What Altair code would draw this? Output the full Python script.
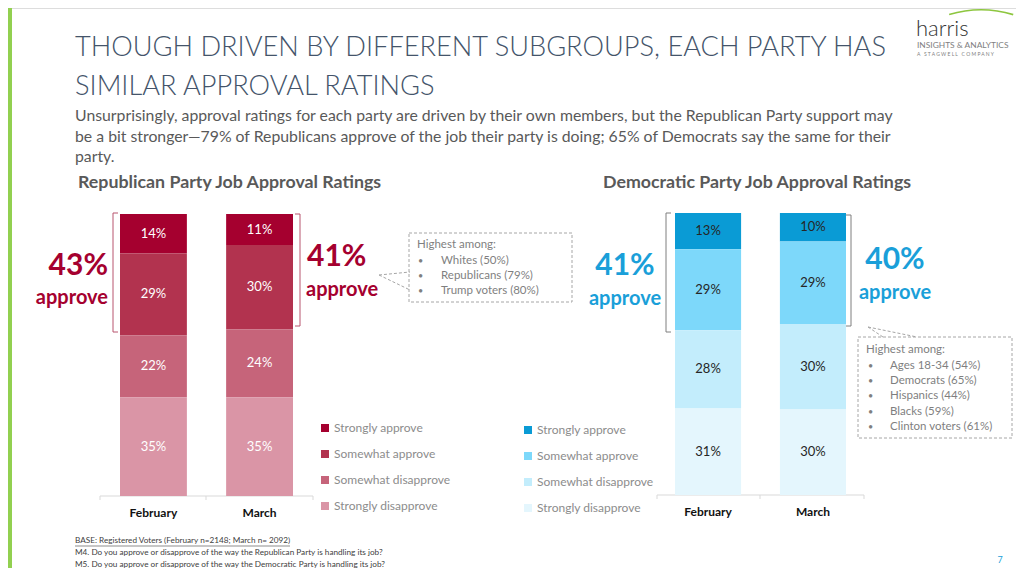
import altair as alt
import pandas as pd

# ---------------- data ----------------
months = ["February", "March"]
levels = ["Strongly approve", "Somewhat approve", "Somewhat disapprove", "Strongly disapprove"]
rep_feb = [14, 29, 22, 35]
rep_mar = [11, 30, 24, 35]
dem_feb = [13, 29, 28, 31]
dem_mar = [10, 29, 30, 30]
rep_colors = ["#A5002F", "#B2334F", "#C6647A", "#DA95A6"]
dem_colors = ["#0A9BD5", "#7DD8FA", "#C3EDFC", "#E4F6FD"]

title_lines = ["THOUGH DRIVEN BY DIFFERENT SUBGROUPS, EACH PARTY HAS", "SIMILAR APPROVAL RATINGS"]
subtitle_lines = [
    "Unsurprisingly, approval ratings for each party are driven by their own members, but the Republican Party support may",
    "be a bit stronger\u201479% of Republicans approve of the job their party is doing; 65% of Democrats say the same for their",
    "party.",
]
rep_header = "Republican Party Job Approval Ratings"
dem_header = "Democratic Party Job Approval Ratings"
rep_approve = ["43%", "41%"]
dem_approve = ["41%", "40%"]
approve_word = "approve"
callout_title = "Highest among:"
rep_callout = ["Whites (50%)", "Republicans (79%)", "Trump voters (80%)"]
dem_callout = ["Ages 18-34 (54%)", "Democrats (65%)", "Hispanics (44%)", "Blacks (59%)", "Clinton voters (61%)"]
footer_lines = [
    "BASE: Registered Voters (February n=2148; March n= 2092)",
    "M4. Do you approve or disapprove of the way the Republican Party is handling its job?",
    "M5. Do you approve or disapprove of the way the Democratic Party is handling its job?",
]
page_number = "7"
logo_lines = ["harris", "INSIGHTS & ANALYTICS", "A \u2002S T A G W E L L \u2002C O M P A N Y"]

FONT = "Lato"
OX, OY = 8, 8
RED = "#A5002F"
BLUE = "#1A9FD9"
GRAY = "#595959"
LGRAY = "#7F7F7F"


def party_frame(feb, mar):
    rows = []
    for m, vals in zip(months, [feb, mar]):
        for i, (lvl, v) in enumerate(zip(levels, vals)):
            rows.append(dict(month=m, level=lvl, value=v, order=len(levels) - 1 - i, label=f"{v}%"))
    return pd.DataFrame(rows)


def party_chart(df, colors, xr, yr, label_color, leg_x, leg_y, month_y):
    xs = alt.X("month:N", scale=alt.Scale(domain=months, range=[xr[0] - OX, xr[1] - OX],
                                           paddingInner=0.37, paddingOuter=0), axis=None)
    ys = alt.Scale(domain=[0, 1], range=[yr[0] - OY, yr[1] - OY], nice=False, zero=False)
    base = alt.Chart(df).transform_stack(
        stack="value", groupby=["month"], as_=["y0", "y1"], offset="normalize",
        sort=[alt.SortField("order", order="ascending")],
    ).transform_calculate(mid="(datum.y0 + datum.y1) / 2")
    bars = base.mark_bar().encode(
        x=xs,
        y=alt.Y("y0:Q", scale=ys, axis=None),
        y2="y1:Q",
        color=alt.Color(
            "level:N",
            scale=alt.Scale(domain=levels, range=colors),
            legend=alt.Legend(
                orient="none", legendX=leg_x - OX, legendY=leg_y - OY, title=None,
                symbolType="square", symbolSize=64, symbolStrokeWidth=0, symbolOpacity=1,
                labelFont=FONT, labelFontSize=12, labelColor="#8C8C8C", labelOffset=3,
                rowPadding=14, padding=0, direction="vertical",
            ),
        ),
    )
    labels = base.mark_text(font=FONT, fontSize=13, color=label_color, baseline="middle").encode(
        x=xs, y=alt.Y("mid:Q", scale=ys, axis=None), text="label:N"
    )
    mlabels = alt.Chart(pd.DataFrame({"month": months})).mark_text(
        font=FONT, fontSize=12, fontWeight="bold", color="#111111", baseline="middle"
    ).encode(x=xs, y=alt.value(month_y - OY), text="month:N")
    return alt.layer(bars, labels, mlabels)


def T(s, x, y, size, color, weight="normal", align="left", font=FONT, baseline="middle"):
    return alt.Chart(pd.DataFrame({"t": [s]})).mark_text(
        align=align, baseline=baseline, fontSize=size, color=color, fontWeight=weight, font=font
    ).encode(x=alt.value(x - OX), y=alt.value(y - OY), text="t:N")


def R(x1, y1, x2, y2, color, width=1.0, dash=None):
    kw = dict(color=color, strokeWidth=width)
    if dash:
        kw["strokeDash"] = dash
    return alt.Chart(pd.DataFrame({"a": [0]})).mark_rule(**kw).encode(
        x=alt.value(x1 - OX), y=alt.value(y1 - OY), x2=alt.value(x2 - OX), y2=alt.value(y2 - OY)
    )


def BOX(x1, y1, x2, y2, fill=None, stroke=None, dash=None):
    kw = dict(fill=fill if fill else "transparent")
    if stroke:
        kw.update(stroke=stroke, strokeWidth=1)
    if dash:
        kw["strokeDash"] = dash
    return alt.Chart(pd.DataFrame({"a": [0]})).mark_rect(**kw).encode(
        x=alt.value(max(x1 - OX, 0)), y=alt.value(max(y1 - OY, 0)),
        x2=alt.value(x2 - OX), y2=alt.value(y2 - OY)
    )


layers = []
# green stripe
layers.append(BOX(0, 0, 12, 576, fill="#92D050"))

# logo
layers.append(alt.Chart(pd.DataFrame({"a": [0]})).mark_arc(
    theta=5.99, theta2=6.58, radius=111, radius2=109.3, color="#8DC63F"
).encode(x=alt.value(981 - OX), y=alt.value(120 - OY)))
layers.append(T(logo_lines[0], 916, 36, 22, "#333333", weight=300, baseline="alphabetic"))
layers.append(T(logo_lines[1], 917, 45, 8.4, "#808080", baseline="middle"))
layers.append(T(logo_lines[2], 917, 54, 5, "#808080"))

# titles
layers.append(T(title_lines[0], 75, 48, 27.2, "#44546A", weight=300))
layers.append(T(title_lines[1], 75, 87, 27.2, "#44546A", weight=300))
for i, line in enumerate(subtitle_lines):
    layers.append(T(line, 75, 116 + 20.5 * i, 15.8, GRAY))
layers.append(T(rep_header, 78, 183, 17.8, GRAY, weight="bold"))
layers.append(T(dem_header, 603, 183, 17.8, GRAY, weight="bold"))

# charts
rep = party_chart(party_frame(rep_feb, rep_mar), rep_colors, (120, 293), (496, 214), "white", 319, 422, 513)
dem = party_chart(party_frame(dem_feb, dem_mar), dem_colors, (675, 846), (495, 213), "#262626", 522, 424, 512)

# axis baselines
for (a, m, b, y) in [(100, 206, 313, 496), (657, 760, 864, 495)]:
    layers.append(R(a, y, b, y, "#D9D9D9"))
    for t in (a, m, b):
        layers.append(R(t, y, t, y + 4, "#D9D9D9"))

# brackets
BR = "#B8546E"
layers += [R(113, 213, 113, 332, BR), R(113, 213, 118, 213, BR), R(113, 332, 118, 332, BR)]
layers += [R(300, 214, 300, 326, BR), R(295, 214, 300, 214, BR), R(295, 326, 300, 326, BR)]
BG = "#7F7F7F"
layers += [R(666, 213, 666, 332, BG), R(666, 213, 671, 213, BG), R(666, 332, 671, 332, BG)]
layers += [R(851, 215, 851, 326, BG), R(846, 215, 851, 215, BG), R(846, 326, 851, 326, BG)]

# approve labels
layers.append(T(rep_approve[0], 108, 266, 30, RED, weight="bold", align="right"))
layers.append(T(approve_word, 108, 298, 20, RED, weight="bold", align="right"))
layers.append(T(rep_approve[1], 307, 257, 30, RED, weight="bold"))
layers.append(T(approve_word, 306, 290, 20, RED, weight="bold"))
layers.append(T(dem_approve[0], 625, 266, 30, BLUE, weight="bold", align="center"))
layers.append(T(approve_word, 625, 299, 20, BLUE, weight="bold", align="center"))
layers.append(T(dem_approve[1], 895, 260, 30, BLUE, weight="bold", align="center"))
layers.append(T(approve_word, 895, 293, 20, BLUE, weight="bold", align="center"))

# callouts
DASH = [3, 2]
layers.append(BOX(409, 233, 572, 302, stroke="#A6A6A6", dash=DASH))
layers.append(R(379, 275, 410, 272, "#A6A6A6", dash=DASH))
layers.append(R(379, 275, 410, 290, "#A6A6A6", dash=DASH))
layers.append(T(callout_title, 417, 245, 11.5, LGRAY))
for i, s in enumerate(rep_callout):
    y = 261 + 15 * i
    layers.append(T("\u2022", 418, y, 9, LGRAY))
    layers.append(T(s, 441, y, 11.5, LGRAY))

layers.append(BOX(858, 337, 1012, 438, stroke="#A6A6A6", dash=DASH))
layers.append(R(868, 327, 883, 337, "#A6A6A6", dash=DASH))
layers.append(R(868, 327, 917, 337, "#A6A6A6", dash=DASH))
layers.append(T(callout_title, 866, 350, 11.5, LGRAY))
for i, s in enumerate(dem_callout):
    y = 365.5 + 15.4 * i
    layers.append(T("\u2022", 868, y, 9, LGRAY))
    layers.append(T(s, 890, y, 11.5, LGRAY))

# footer
for i, s in enumerate(footer_lines):
    layers.append(T(s, 75, 541 + 12 * i, 8.2, "#404040"))
layers.append(R(75, 546, 290, 546, "#404040", width=0.6))
layers.append(T(page_number, 1000, 560, 9, BLUE, align="center"))

chart = alt.layer(*layers, rep, dem).resolve_scale(
    x="independent", y="independent", color="independent"
).properties(
    width=1008, height=560, padding=0, autosize=alt.AutoSizeParams(type="none")
).configure_view(stroke=None).configure(background="white")

chart.save("out.html", embed_options={"renderer": "svg", "actions": False})
